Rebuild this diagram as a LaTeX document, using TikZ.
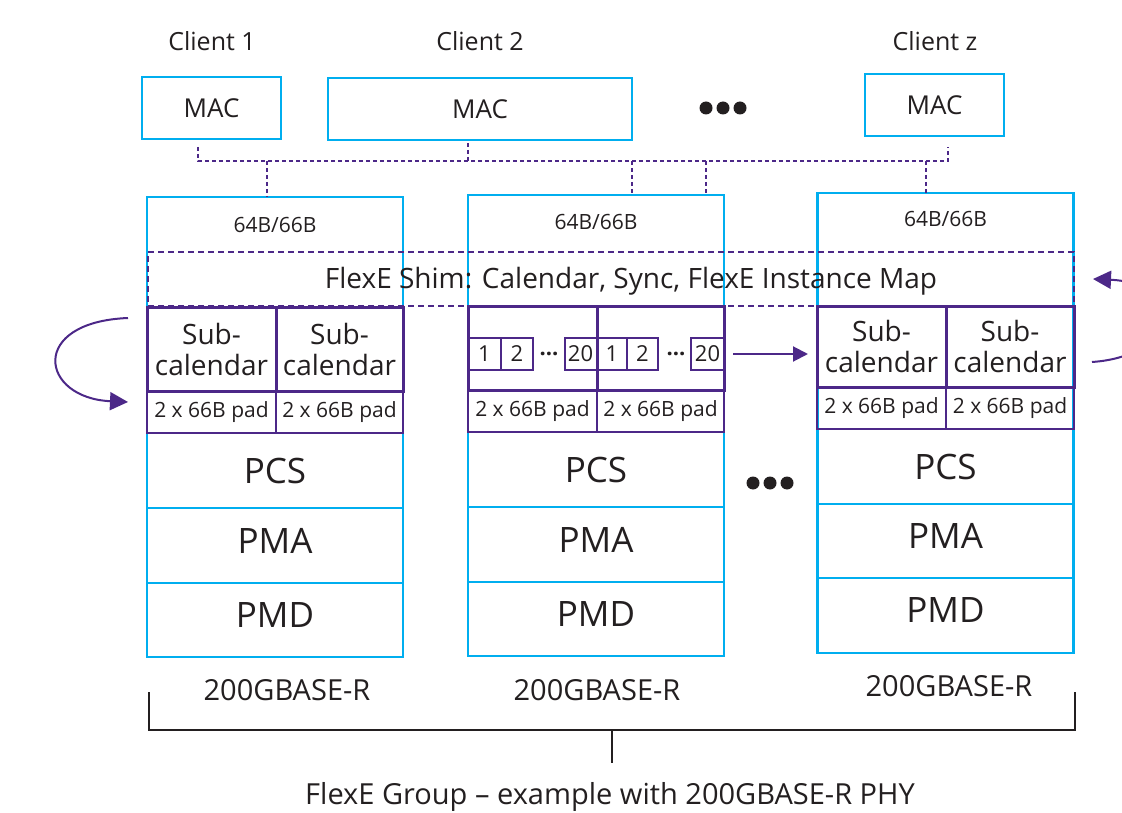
\documentclass[tikz,border=0pt]{standalone}
\usepackage{fontspec}
\setmainfont{Open Sans}
\usetikzlibrary{arrows.meta, calc}
\definecolor{flexcyan}{RGB}{0,174,239}
\definecolor{flexpurple}{RGB}{76,40,136}
\definecolor{ink}{RGB}{35,31,32}
\tikzset{every node/.append style={inner sep=0pt, outer sep=0pt, text=ink, font=\fontsize{25}{30}\selectfont}}
\tikzset{macbox/.style={draw=flexcyan, line width=2.2pt, minimum width=#1, minimum height=62pt, font=\fontsize{26}{30}\selectfont}}
\tikzset{phybox/.style={draw=flexcyan, line width=2.2pt, minimum width=256pt, minimum height=#1}}
\tikzset{layer/.style={draw=flexcyan, line width=2.2pt, minimum width=256pt, minimum height=#1, font=\fontsize{35}{40}\selectfont}}
\tikzset{lowlayer/.style={layer=#1, text depth=10pt}}
\tikzset{subcal/.style={draw=flexpurple, line width=3pt, minimum width=#1, align=center, font=\fontsize{28}{31}\selectfont}}
\tikzset{padbox/.style={draw=flexpurple, line width=1.5pt, minimum width=#1, minimum height=42pt, font=\fontsize{21}{24}\selectfont}}
\tikzset{slot/.style={draw=flexpurple, line width=2pt, minimum width=32pt, minimum height=32pt, font=\fontsize{22}{24}\selectfont}}
\tikzset{slotdots/.style={font=\fontsize{22}{24}\selectfont\bfseries}}
\tikzset{bus/.style={draw=flexpurple, line width=2pt, dash pattern=on 4pt off 3pt}}
\tikzset{arr/.style={draw=flexpurple, line width=2pt, -{Triangle[length=18pt,width=18pt]}}}
\tikzset{phylabel/.style={font=\fontsize{29}{32}\selectfont}}

\begin{document}
\begin{tikzpicture}[x=1pt, y=-1pt]
\useasboundingbox (0,0) rectangle (1122,813);
% clients
\node[anchor=base] (client1) at (212,51) {Client 1};
\node[anchor=base] (client2) at (480,51) {Client 2};
\node[anchor=base] (clientz) at (935,51) {Client z};
\node[macbox=139pt] (mac1) at (211.5,108) {MAC};
\node[macbox=304pt] (mac2) at (480,109) {MAC};
\node[macbox=139pt] (macz) at (934.5,105) {MAC};
\foreach \x in {706,723,740} \fill[ink] (\x,108) circle (6.5pt);
% PHY columns
\node[phybox=460pt] (phy1) at (275,427) {};
\node[phybox=461pt] (phy2) at (596,425.5) {};
\node[phybox=460pt] (phy3) at (945.5,423) {};
\node[font=\fontsize{21}{24}\selectfont] (enc1) at (275,225) {64B/66B};
\node[font=\fontsize{21}{24}\selectfont] (enc2) at (596,222) {64B/66B};
\node[font=\fontsize{21}{24}\selectfont] (enc3) at (945.5,219) {64B/66B};
\node[layer=75pt] (pcs1) at (275,470.5) {PCS};
\node[lowlayer=75pt] (pma1) at (275,545.5) {PMA};
\node[lowlayer=74pt] (pmd1) at (275,620) {PMD};
\node[layer=75pt] (pcs2) at (596,469.5) {PCS};
\node[lowlayer=75pt] (pma2) at (596,544.5) {PMA};
\node[lowlayer=74pt] (pmd2) at (596,619) {PMD};
\node[layer=75pt] (pcs3) at (945.5,466.5) {PCS};
\node[lowlayer=74pt] (pma3) at (945.5,541) {PMA};
\node[lowlayer=75pt] (pmd3) at (945.5,615.5) {PMD};
% sub-calendars and pads
\node[subcal=129pt, minimum height=84pt] (sub1a) at (211.5,349) {Sub-\\calendar};
\node[subcal=127pt, minimum height=84pt] (sub1b) at (339.5,349) {Sub-\\calendar};
\node[padbox=129pt] (pad1a) at (211.5,412) {2 x 66B pad};
\node[padbox=127pt] (pad1b) at (339.5,412) {2 x 66B pad};
\node[subcal=129pt, minimum height=84pt] (sub2a) at (532.5,348) {};
\node[subcal=127pt, minimum height=84pt] (sub2b) at (660.5,348) {};
\node[padbox=129pt] (pad2a) at (532.5,411) {2 x 66B pad};
\node[padbox=127pt] (pad2b) at (660.5,411) {2 x 66B pad};
\node[subcal=129pt, minimum height=81pt] (sub3a) at (881.5,346.5) {Sub-\\calendar};
\node[subcal=128pt, minimum height=81pt] (sub3b) at (1010,346.5) {Sub-\\calendar};
\node[padbox=129pt] (pad3a) at (881.5,408) {2 x 66B pad};
\node[padbox=128pt] (pad3b) at (1010,408) {2 x 66B pad};
% calendar slots
\node[slot] (s1a) at (484.5,354) {1};
\node[slot] (s1b) at (517,354) {2};
\node[slotdots] (s1c) at (549,354) {...};
\node[slot] (s1d) at (580.5,354) {20};
\node[slot, minimum width=30pt] (s2a) at (612,354) {1};
\node[slot, minimum width=31pt] (s2b) at (642.5,354) {2};
\node[slotdots] (s2c) at (676,354) {...};
\node[slot, minimum width=33pt] (s2d) at (707.5,354) {20};
% shim
\node[draw=flexpurple, line width=2pt, dash pattern=on 6pt off 4pt, minimum width=926pt, minimum height=54pt] (shim) at (611,279) {};
\node[font=\fontsize{28}{30}\selectfont] (shimtext) at (631,281) {FlexE Shim: Calendar, Sync, FlexE Instance Map};
% client bus
\coordinate (bus) at (0,161);
\coordinate (d1) at ($(mac1.south)+(-13.5,8)$);
\coordinate (d2) at ($(mac2.south)+(-12,3)$);
\coordinate (dz) at ($(macz.south)+(13.5,11)$);
\coordinate (e1) at ($(phy1.north)+(-8,0)$);
\coordinate (e2a) at ($(phy2.north)+(36,0)$);
\coordinate (e2b) at ($(phy2.north)+(110,0)$);
\coordinate (e3) at ($(phy3.north)+(-19.5,0)$);
\draw[bus] (d1) -- (d1 |- bus) -- (dz |- bus) -- (dz);
\draw[bus] (d2) -- (d2 |- bus);
\foreach \e in {e1,e2a,e2b,e3} \draw[bus] (\e |- bus) -- (\e);
% arrows
\draw[arr] (128,318) .. controls (28,322) and (40,398) .. (128,402);
\draw[arr, -{Triangle[length=15pt,width=15pt]}] ($(s2d.east)+(9,0)$) -- ($(s2d.east)+(84,0)$);
\draw[arr] (1092,362) .. controls (1180,356) and (1185,283) .. (1093,279);
\foreach \x in {753,770,787} \fill[ink] (\x,483) circle (6.5pt);
% group bracket
\node[phylabel] (base1) at (287,690) {200GBASE-R};
\node[phylabel] (base2) at (597,690) {200GBASE-R};
\node[phylabel] (base3) at (949,686) {200GBASE-R};
\coordinate (bl) at (149,692);
\coordinate (br) at (1075,692);
\coordinate (brk) at (612,730);
\coordinate (tick) at (612,763);
\draw[ink, line width=1.6pt] (bl) -- (bl |- brk) -- (br |- brk) -- (br);
\draw[ink, line width=1.6pt] (brk) -- (tick);
\node[phylabel] (group) at (610,797) {FlexE Group -- example with 200GBASE-R PHY};
\end{tikzpicture}
\end{document}
